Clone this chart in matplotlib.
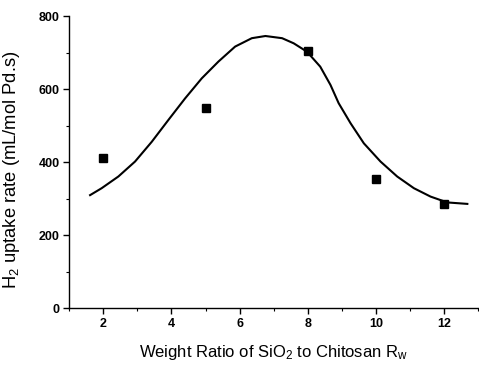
import matplotlib
matplotlib.use("Agg")
import matplotlib.pyplot as plt
from matplotlib.ticker import MultipleLocator

plt.rcParams['font.family'] = ['Liberation Sans', 'DejaVu Sans']
plt.rcParams['mathtext.fontset'] = 'custom'
plt.rcParams['mathtext.rm'] = 'Liberation Sans'
plt.rcParams['mathtext.it'] = 'Liberation Sans:italic'

# measured data points
ratio = [2, 5, 8, 10, 12]
rate = [413, 550, 706, 353, 287]

# fitted curve
fit_x = [1.61, 1.95, 2.44, 2.93, 3.42, 3.91, 4.40, 4.89, 5.38, 5.87, 6.36, 6.76, 7.25,
         7.59, 7.98, 8.37, 8.67, 8.91, 9.26, 9.65, 10.14, 10.63, 11.12, 11.61, 12.10, 12.69]
fit_y = [310, 329, 361, 402, 456, 516, 575, 630, 676, 717, 740, 746, 740,
         726, 703, 662, 612, 562, 507, 452, 402, 361, 329, 306, 290, 286]

fig = plt.figure(figsize=(4.79, 3.67), dpi=100)
ax = fig.add_axes([0.1447, 0.160, 0.853, 0.7956])

ax.plot(fit_x, fit_y, color='black', lw=1.5, solid_joinstyle='round')
ax.plot(ratio, rate, 's', color='black', ms=6)

ax.set_xlim(1, 13)
ax.set_ylim(0, 800)
ax.xaxis.set_major_locator(MultipleLocator(2))
ax.xaxis.set_minor_locator(MultipleLocator(1))
ax.yaxis.set_major_locator(MultipleLocator(200))
ax.yaxis.set_minor_locator(MultipleLocator(100))
for s in ['top', 'right']:
    ax.spines[s].set_visible(False)
for s in ['left', 'bottom']:
    ax.spines[s].set_linewidth(1.0)
ax.tick_params(which='major', direction='out', length=4, width=1, labelsize=9, pad=3)
ax.tick_params(which='minor', direction='out', length=2.5, width=0.8)
for lab in ax.get_xticklabels() + ax.get_yticklabels():
    lab.set_fontweight('bold')

ax.set_xlabel(r'Weight Ratio of SiO$_{\mathregular{2}}$ to Chitosan R$_{\mathregular{w}}$', fontsize=12, labelpad=9)
ax.set_ylabel(r'H$_{\mathregular{2}}$ uptake rate (mL/mol Pd.s)', fontsize=13.2, labelpad=5)
ax.yaxis.set_label_coords(-0.115, 0.474)

fig.savefig('out.png', dpi=100)
